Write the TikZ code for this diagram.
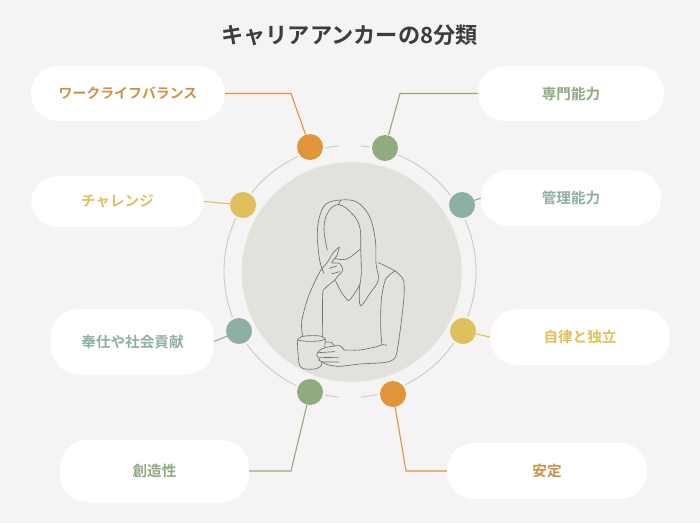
\documentclass[tikz,border=0pt]{standalone}
\usepackage{fontspec}
\setmainfont{Noto Sans CJK JP}[BoldFont={Noto Sans CJK JP Bold}]
\definecolor{bgc}{HTML}{F5F3F4}
\definecolor{disc}{HTML}{E3E1DC}
\definecolor{ring}{HTML}{C8CAC4}
\definecolor{oran}{HTML}{E1953A}
\definecolor{yell}{HTML}{E0C05C}
\definecolor{teal2}{HTML}{8DB0A6}
\definecolor{gree}{HTML}{90AB7F}
\definecolor{otext}{HTML}{CB9145}
\definecolor{ink}{HTML}{3C3C3C}
\definecolor{figl}{HTML}{6F6F68}
\tikzset{
 x=1pt,y=-1pt,
 pill/.style={fill=white,rounded corners=27pt,inner sep=0pt,font=\fontsize{14.6pt}{16pt}\selectfont\bfseries},
 dot/.style={circle,minimum size=26pt,inner sep=0pt},
 conn/.style={line width=1.1pt},
 fig/.style={draw=figl,line width=0.65pt,line join=round,line cap=round},
}
\newcommand{\pillat}[7]{% name, x0, x1, y0, y1, colour, text
 \node[pill,text=#6,minimum width={#3pt-#2pt},minimum height={#5pt-#4pt}] (#1) at ({(#2+#3)/2},{(#4+#5)/2}) {\raisebox{-0.7pt}{#7}};}
\begin{document}
\begin{tikzpicture}
\useasboundingbox (0,0) rectangle (700,523);
\fill[bgc] (0,0) rectangle (700,523);
\node[font=\fontsize{22.2pt}{24pt}\selectfont\bfseries,text=ink] (title) at (349.5,35) {キャリアアンカーの8分類};
% ring and disc
\coordinate (rc) at (350,271.5);
\draw[ring,line width=0.9pt] (rc) ++(-95:126) arc[start angle=-95,end angle=-265,radius=126];
\draw[ring,line width=0.9pt] (rc) ++(-85:126) arc[start angle=-85,end angle=85,radius=126];
\node[circle,fill=disc,minimum size=220pt,inner sep=0pt] (disc) at (351.7,272) {};
% pills
\pillat{p1}{31}{225}{66}{121}{otext}{\fontsize{13.9pt}{16pt}\selectfont ワークライフバランス}
\pillat{p2}{31}{204}{176}{227}{yell}{チャレンジ}
\pillat{p3}{51}{214}{309}{374}{teal2}{奉仕や社会貢献}
\pillat{p4}{60}{249}{440}{502}{gree}{創造性}
\pillat{p5}{478}{664}{66}{121}{gree}{専門能力}
\pillat{p6}{481}{661}{170}{226}{teal2}{管理能力}
\pillat{p7}{490}{670}{309}{365}{yell}{自律と独立}
\pillat{p8}{447}{647}{443}{499}{otext}{安定}
% dot halos break the ring
\foreach \p in {(310,147),(385,148),(462,205),(243,205),(239,331),(463,331),(310,392),(393,394)}
  \fill[bgc] \p circle (15);
% dots
\node[dot,fill=oran] (d1) at (310,147) {};
\node[dot,fill=yell] (d2) at (243,205) {};
\node[dot,fill=teal2] (d3) at (239,331) {};
\node[dot,fill=gree] (d4) at (310,392) {};
\node[dot,fill=gree] (d5) at (385,148) {};
\node[dot,fill=teal2] (d6) at (462,205) {};
\node[dot,fill=yell] (d7) at (463,331) {};
\node[dot,fill=oran] (d8) at (393,394) {};
% connectors
\coordinate (b1) at (291,93.5);
\coordinate (b4) at (291,471);
\coordinate (b5) at (400,93.5);
\coordinate (b8) at (406,471);
\draw[conn,oran] (p1) -- (b1) -- (d1);
\draw[conn,yell] (p2.east) -- (d2);
\draw[conn,teal2] (p3.east) -- (d3);
\draw[conn,gree] (p4) -- (b4) -- (d4);
\draw[conn,gree] (p5) -- (b5) -- (d5);
\draw[conn,teal2] (p6.west) -- (d6);
\draw[conn,yell] (p7.west) -- (d7);
\draw[conn,oran] (p8.west) -- (b8) -- (d8);
% woman, in 3x crop coordinates
\begin{scope}[shift={(220,130)},x=0.3333pt,y=-0.3333pt]
 % hair outer
 \draw[fig] plot[smooth,tension=0.6] coordinates {(312,430) (300,395) (292,320) (298,262) (318,222) (362,210) (410,216) (448,258) (466,330) (468,400) (475,450) (450,490) (422,527) (418,480) (424,430) (422,355)};
 % face
 \draw[fig] plot[smooth,tension=0.65] coordinates {(422,355) (420,295) (400,255) (358,224) (325,245) (312,295) (322,360)};
 \draw[fig] plot[smooth,tension=0.7] coordinates {(345,385) (380,387) (420,358)};
 \draw[fig] (362,211) -- (355,224);
 % finger and hand
 \draw[fig] plot[smooth,tension=0.5] coordinates {(358,351) (340,368) (322,397) (298,428) (265,500) (245,575) (248,617)};
 \draw[fig] plot[smooth,tension=0.5] coordinates {(358,351) (350,378) (335,398) (358,400) (368,420) (355,437) (342,452) (315,475) (308,495) (308,620)};
 \draw[fig] (328,415) -- (350,408) (335,432) -- (358,425);
 % collar
 \draw[fig] plot[smooth,tension=0.3] coordinates {(346,452) (365,488) (386,512) (405,488) (421,462)};
 % shoulder, arm
 \draw[fig] plot[smooth,tension=0.5] coordinates {(475,398) (525,423) (550,450) (552,500) (542,590) (530,670) (518,690) (490,698) (420,702) (360,709) (322,704) (296,690)};
 \draw[fig] plot[smooth,tension=0.5] coordinates {(525,423) (497,448) (484,510) (482,590) (486,645)};
 \draw[fig] plot[smooth,tension=0.5] coordinates {(372,660) (420,660) (470,650) (486,644) (500,646)};
 % mug
 \draw[fig] plot[smooth,tension=0.6] coordinates {(232,630) (245,620) (275,617) (305,619) (316,628)};
 \draw[fig] plot[smooth,tension=0.6] coordinates {(232,630) (260,634) (295,633) (316,628)};
 \draw[fig] plot[smooth,tension=0.5] coordinates {(232,630) (234,670) (238,703) (250,716) (285,717) (303,708) (306,695)};
 \draw[fig] (316,628) -- (314,652);
 \draw[fig] plot[smooth,tension=0.7] coordinates {(316,636) (335,638) (343,650)};
 % hand on mug
 \draw[fig] plot[smooth,tension=0.5] coordinates {(372,660) (358,647) (320,652) (300,660) (290,675) (300,690)};
 \draw[fig] (295,668) -- (345,665) (298,683) -- (355,682) (305,696) -- (355,696);
\end{scope}
\end{tikzpicture}
\end{document}
